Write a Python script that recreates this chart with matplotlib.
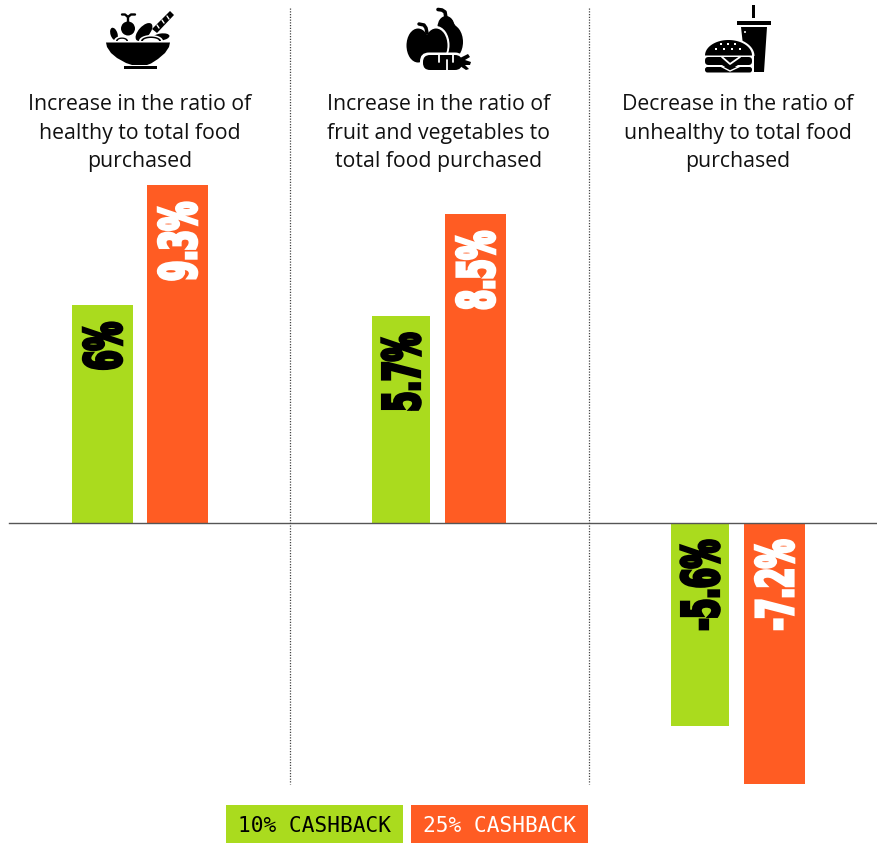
import matplotlib
matplotlib.use("Agg")
import numpy as np
import matplotlib.pyplot as plt
from matplotlib.patheffects import AbstractPathEffect
from matplotlib.transforms import Affine2D
from matplotlib.patches import Polygon, Circle, Ellipse, Rectangle, FancyBboxPatch

W, H = 878, 843
BASELINE = 523
PX_PER_UNIT = 36.3

titles = [
    "Increase in the ratio of\nhealthy to total food\npurchased",
    "Increase in the ratio of\nfruit and vegetables to\ntotal food purchased",
    "Decrease in the ratio of\nunhealthy to total food\npurchased",
]
cashback_10 = [6.0, 5.7, -5.6]
cashback_25 = [9.3, 8.5, -7.2]
labels_10 = ["6%", "5.7%", "-5.6%"]
labels_25 = ["9.3%", "8.5%", "-7.2%"]
legend_labels = ["10% CASHBACK", "25% CASHBACK"]

GREEN = "#AADB1E"
ORANGE = "#FF5C23"


class Condensed(AbstractPathEffect):
    """Squeeze glyphs along the reading direction, keeping the end of the string fixed."""

    def __init__(self, squeeze, weight_px):
        super().__init__()
        self.squeeze = squeeze
        self.weight_px = weight_px

    def draw_path(self, renderer, gc, tpath, affine, rgbFace=None):
        x_end = tpath.get_extents().x1
        narrow = Affine2D().translate(-x_end, 0).scale(self.squeeze, 1).translate(x_end, 0) + affine
        gc0 = renderer.new_gc()
        gc0.copy_properties(gc)
        gc0.set_foreground(rgbFace)
        gc0.set_linewidth(self.weight_px * 72 / 100)
        gc0.set_joinstyle("miter")
        renderer.draw_path(gc0, tpath, narrow, rgbFace)
        gc0.restore()


fig = plt.figure(figsize=(W / 100, H / 100), dpi=100, facecolor="white")

# Bars live on a value axis whose zero sits on the baseline.
ax = fig.add_axes([0, 0, 1, 1])
ax.set_xlim(0, W)
ax.set_ylim(-(H - BASELINE) / PX_PER_UNIT, BASELINE / PX_PER_UNIT)
ax.axis("off")

left_10 = [72, 372, 671]
width_10 = [61, 58, 58]
left_25 = [147, 445, 744]
width_25 = [61, 61, 61]

bars_10 = ax.bar(left_10, cashback_10, width_10, align="edge", color=GREEN, zorder=2)
bars_25 = ax.bar(left_25, cashback_25, width_25, align="edge", color=ORANGE, zorder=2)


def bar_label(bar, text, color):
    """Rotated heavy value label, its last glyph set 15 px in from the outer end."""
    value = bar.get_height()
    x = bar.get_x() + bar.get_width() / 2 + 4.5
    inset = 16 / PX_PER_UNIT
    y = value - inset if value > 0 else -inset
    t = ax.text(x, y, text, rotation=90, ha="center", va="top", color=color,
                family="DejaVu Sans", weight="bold", fontsize=36.5, zorder=3)
    t.set_path_effects([Condensed(0.56, 3.2)])


for bar, text in zip(bars_10, labels_10):
    bar_label(bar, text, "black")
for bar, text in zip(bars_25, labels_25):
    bar_label(bar, text, "white")

ax.plot([9, W], [0, 0], color="#555555", lw=1.0, zorder=4)

# Overlay in pixel coordinates for separators, headings, icons and the legend.
ov = fig.add_axes([0, 0, 1, 1], facecolor="none")
ov.set_xlim(0, W)
ov.set_ylim(H, 0)
ov.axis("off")

for x in (290, 589):
    ov.plot([x, x], [8, 784], color="#444444", lw=0.9, ls=(0, (1, 1.2)))

for cx, title in zip((140, 439, 738), titles):
    ov.text(cx, 94, title, ha="center", va="top", family="Open Sans", fontsize=15.3,
            color="#111111", linespacing=1.47)

# Legend chips
for (x0, fill, fg), label in zip(((226, GREEN, "black"), (411, ORANGE, "white")), legend_labels):
    ov.add_patch(Rectangle((x0, 805), 177, 38, color=fill, lw=0))
    ov.text(x0 + 88.5, 825.5, label, ha="center", va="center", family="DejaVu Sans Mono",
            fontsize=15.2, color=fg)


def poly(pts, color="black", z=5):
    ov.add_patch(Polygon(pts, closed=True, color=color, lw=0, zorder=z))


def disc(x, y, r, color="black", z=5):
    ov.add_patch(Circle((x, y), r, color=color, lw=0, zorder=z))


def oval(x, y, w, h, color="black", angle=0, z=5):
    ov.add_patch(Ellipse((x, y), w, h, angle=angle, color=color, lw=0, zorder=z))


def stroke(xs, ys, lw=2.0, color="black", z=5):
    ov.plot(xs, ys, color=color, lw=lw, solid_capstyle="round", zorder=z)


def pill(x, y, w, h, r, color="black", z=5):
    ov.add_patch(FancyBboxPatch((x, y), w, h, boxstyle=f"round,pad=0,rounding_size={r}",
                                color=color, lw=0, zorder=z))


def dome(cx, base_y, half_w, height, color="black", z=5):
    t = np.linspace(np.pi, 2 * np.pi, 40)
    poly(np.column_stack([cx + half_w * np.cos(t), base_y + height * np.sin(t)]), color, z)


# Salad bowl icon
disc(128, 28.5, 7)
stroke([128, 128], [22, 17], 1.7)
stroke([128, 125, 122], [17, 14.5, 14.5], 1.7)
stroke([128, 131, 135], [17, 14.5, 14.5], 1.7)
oval(114, 34, 7, 13, angle=-18)
oval(144, 32, 11, 22, angle=42)
oval(161, 37, 17, 7, angle=-8)
poly([(152, 29), (170, 11), (174, 15), (157, 33)])
for dx, dy in ((157, 20), (162, 15), (167, 11)):
    stroke([dx, dx + 2], [dy + 5, dy + 8], 1.0, "white", 6)
dome(122, 41, 8, 5, "white", 6)
dome(122, 41, 6, 3.5, "black", 6.2)
dome(122, 41, 4.3, 2.2, "white", 6.4)
dome(151, 41, 12, 6, "white", 6)
dome(151, 41, 10, 4.5, "black", 6.2)
dome(151, 41, 8, 3, "white", 6.4)
poly([(106, 42.5), (170, 42.5), (169, 47), (165, 53), (158, 59), (151, 63.5), (147, 65),
      (132, 65), (126, 63), (117, 58), (111, 53), (107, 47)], z=7)
poly([(124, 66), (157, 66), (157, 69), (124, 69)], z=7)

# Fruit and vegetables icon: pear behind, apple and carrot in front
oval(450, 42, 26, 36)
oval(446, 27, 17, 22)
poly([(438, 28), (446, 16), (452, 20), (458, 30), (440, 40)])
stroke([438, 442, 445, 446], [9.5, 10, 12, 18], 2.6)
oval(418, 45, 27, 38, color="white", z=6)
oval(436, 45, 27, 38, color="white", z=6)
oval(418, 45.5, 23, 34, z=7)
oval(436, 45.5, 23, 34, z=7)
stroke([419, 424, 426, 427], [24, 25, 28, 33], 2.5, z=7.5)
pill(420, 52.5, 44, 20, 9, "white", 8)
pill(423, 55, 39, 15, 7, "black", 9)
for x0, y0, y1 in ((439, 54, 62), (447, 60, 71), (453, 54, 62)):
    stroke([x0, x0], [y0, y1], 1.3, "white", 10)
poly([(460, 58), (468, 54), (470, 57), (465, 60), (471, 62), (470, 65), (465, 65), (469, 69), (466, 70),
      (460, 66)], z=9)

# Burger and drink icon
poly([(741, 27), (767, 27), (764, 72), (746, 72)])
poly([(737, 21), (771, 21), (771, 25), (737, 25)])
poly([(752, 5), (755, 5), (755, 18), (752, 18)])
disc(745, 32, 1.0, "white", 6)
# A white halo keeps the burger visually separate from the cup behind it.
dome(728.5, 56, 26, 18, "white", 5.5)
ov.add_patch(Rectangle((702, 55), 52, 20, color="white", lw=0, zorder=5.5))
dome(728.5, 55.5, 23.5, 15.5, "black", 6)
for sx, sy in ((720, 43), (727, 43), (734, 43), (715, 48), (723, 48), (731, 48), (739, 48)):
    ov.add_patch(Rectangle((sx, sy), 2.2, 2.2, color="white", lw=0, zorder=7))
pill(705, 57, 47, 8, 3.5, "black", 7)
pill(705, 67, 47, 5.5, 2.5, "black", 7)
stroke([722, 730, 740], [57, 64, 57], 1.3, "white", 8)
poly([(722, 65), (738, 65), (730, 70)], "black", 9)
stroke([720, 730, 741], [65.8, 71, 65.8], 1.0, "white", 9)

fig.savefig("out.png", dpi=100, facecolor="white")
